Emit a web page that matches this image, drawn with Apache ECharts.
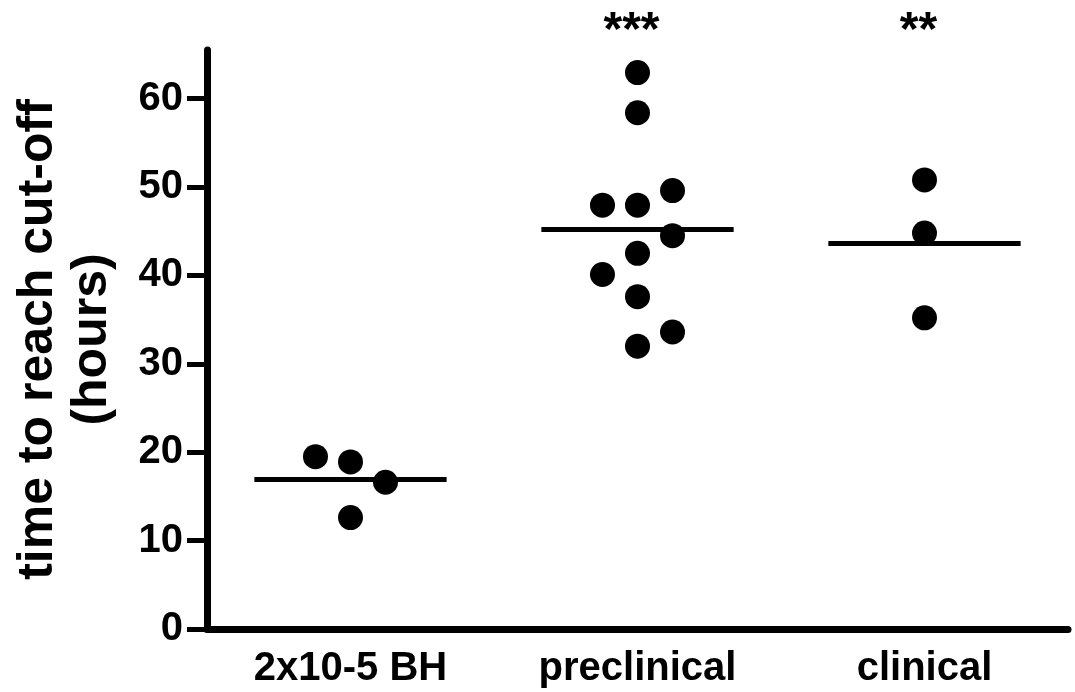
<!DOCTYPE html>
<html>
<head>
<meta charset="utf-8">
<script src="https://cdn.jsdelivr.net/npm/echarts@6/dist/echarts.min.js"></script>
<style>
html,body{margin:0;padding:0;background:#fff;}
#chart{width:1075px;height:692px;}
</style>
</head>
<body>
<div id="chart"></div>
<script>
const categories = ['2x10-5 BH', 'preclinical', 'clinical'];
const yTickValues = [0, 10, 20, 30, 40, 50, 60];
const bhValues = [19.5, 18.9, 16.6, 12.6];
const bhColumns = [-1, 0, 1, 0];
const preclinicalValues = [62.95, 58.4, 47.95, 47.95, 49.6, 44.5, 42.5, 40.1, 37.6, 33.6, 32.0];
const preclinicalColumns = [0, 0, -1, 0, 1, 1, 0, -1, 0, 1, 0];
const clinicalValues = [50.8, 44.8, 35.2];
const clinicalColumns = [0, 0, 0];
const significance = ['', '***', '**'];

const groups = [
  { values: bhValues, cols: bhColumns },
  { values: preclinicalValues, cols: preclinicalColumns },
  { values: clinicalValues, cols: clinicalColumns }
];
const colStep = 0.122;
const meanHalfWidth = 0.335;
const FONT = '"Liberation Sans", Arial, Helvetica, sans-serif';

const points = [];
groups.forEach((g, gi) => {
  g.values.forEach((v, i) => points.push([gi + g.cols[i] * colStep, v]));
});
const means = groups.map((g, gi) => [gi, g.values.reduce((a, b) => a + b, 0) / g.values.length]);
const stars = significance.map((s, i) => [i, s]).filter(d => d[1]);

const chart = echarts.init(document.getElementById('chart'));
chart.setOption({
  animation: false,
  backgroundColor: '#fff',
  grid: { left: 207, right: 7, top: 50, bottom: 63, containLabel: false },
  xAxis: [
    {
      type: 'category',
      data: categories,
      boundaryGap: true,
      axisLine: { onZero: false, lineStyle: { color: '#000', width: 7 } },
      axisTick: { alignWithLabel: true, length: 20, lineStyle: { color: '#000', width: 5 } },
      axisLabel: { color: '#000', fontFamily: FONT, fontWeight: 'bold', fontSize: 40, margin: 20 },
      splitLine: { show: false }
    },
    {
      type: 'value',
      min: -0.5,
      max: 2.5,
      show: false
    }
  ],
  yAxis: {
    type: 'value',
    min: 0,
    max: 65.5,
    interval: 10,
    name: 'time to reach cut-off\n(hours)',
    nameLocation: 'middle',
    nameRotate: 90,
    nameGap: 88,
    nameTextStyle: { color: '#000', fontFamily: FONT, fontWeight: 'bold', fontSize: 50, lineHeight: 54, align: 'center' },
    axisLine: { show: true, onZero: false, lineStyle: { color: '#000', width: 7 } },
    axisTick: { show: true, length: 20, customValues: yTickValues, lineStyle: { color: '#000', width: 5 } },
    axisLabel: { color: '#000', fontFamily: FONT, fontWeight: 'bold', fontSize: 40, margin: 24, customValues: yTickValues },
    splitLine: { show: false }
  },
  series: [
    {
      type: 'scatter',
      xAxisIndex: 1,
      data: points,
      symbol: 'circle',
      symbolSize: 25,
      itemStyle: { color: '#000', opacity: 1 }
    },
    {
      type: 'custom',
      xAxisIndex: 1,
      data: means,
      renderItem: function (params, api) {
        const x = api.value(0), y = api.value(1);
        const p1 = api.coord([x - meanHalfWidth, y]);
        const p2 = api.coord([x + meanHalfWidth, y]);
        return {
          type: 'line',
          shape: { x1: p1[0], y1: p1[1], x2: p2[0], y2: p2[1] },
          style: { stroke: '#000', lineWidth: 5 }
        };
      }
    },
    {
      type: 'custom',
      xAxisIndex: 1,
      clip: false,
      data: stars,
      renderItem: function (params, api) {
        const idx = params.dataIndex;
        const p = api.coord([stars[idx][0], 65.5]);
        return {
          type: 'text',
          x: p[0] - 6,
          y: p[1] - 18,
          style: {
            text: stars[idx][1],
            fill: '#000',
            font: 'bold 48px ' + FONT,
            align: 'center',
            verticalAlign: 'middle'
          }
        };
      }
    }
  ]
});
</script>
</body>
</html>
